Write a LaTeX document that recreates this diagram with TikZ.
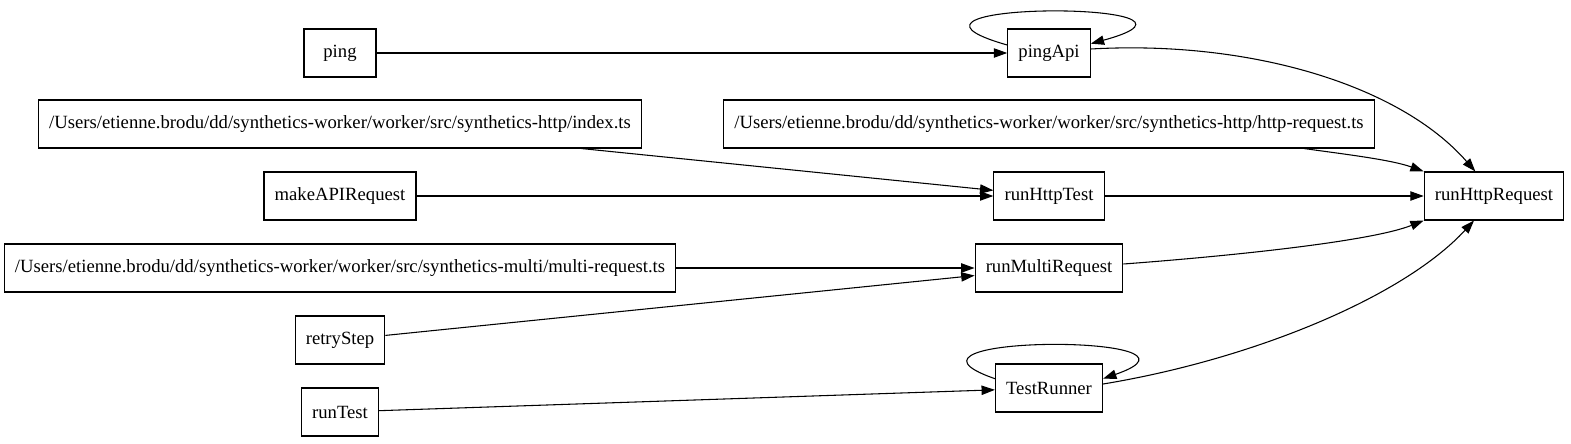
\documentclass[tikz,border=0pt]{standalone}
\usepackage{fontspec}
\setmainfont{Liberation Serif}
\usepackage{tikz}
\usetikzlibrary{arrows.meta}

\begin{document}
\begin{tikzpicture}
    [x=0.75pt,y=-0.75pt,
    font=\fontsize{14pt}{16pt}\selectfont,
    box/.style={shape=rectangle,draw=black,line width=0.8pt,minimum width=54pt,minimum height=36pt,inner xsep=8pt},
    arc/.style={-{Triangle[length=10pt,width=7pt]},line width=0.8pt}]

    \useasboundingbox (0,0) rectangle (1571,443);

    \node (ping) [box] at (340,53) {ping};
    \node (indexTs) [box] at (340,124) {/Users/etienne.brodu/dd/synthetics-worker/worker/src/synthetics-http/index.ts};
    \node (makeAPIRequest) [box] at (340,196) {makeAPIRequest};
    \node (multiRequestTs) [box] at (340,268) {/Users/etienne.brodu/dd/synthetics-worker/worker/src/synthetics-multi/multi-request.ts};
    \node (retryStep) [box] at (340,340) {retryStep};
    \node (runTest) [box] at (340,412) {runTest};

    \node (pingApi) [box] at (1049,53) {pingApi};
    \node (httpRequestTs) [box] at (1049,124) {/Users/etienne.brodu/dd/synthetics-worker/worker/src/synthetics-http/http-request.ts};
    \node (runHttpTest) [box] at (1049,196) {runHttpTest};
    \node (runMultiRequest) [box] at (1049,268) {runMultiRequest};
    \node (TestRunner) [box] at (1049,388) {TestRunner};

    \node (runHttpRequest) [box] at (1494,196) {runHttpRequest};

    \draw [arc] (ping) -- (pingApi);
    \draw [arc] ([yshift=6pt]pingApi.west) .. controls +(-158,-45) and +(158,-43) .. ([yshift=7pt]pingApi.east);
    \draw [arc] ([yshift=3pt]pingApi.east) .. controls +(158,-9) and +(-76,-87) .. ([xshift=-14pt]runHttpRequest.north);
    \draw [arc] (indexTs) -- (runHttpTest);
    \draw [arc] ([xshift=-53pt]httpRequestTs.south east) .. controls +(35,5) and +(-33,-12) .. (runHttpRequest.north west);
    \draw [arc] (makeAPIRequest) -- (runHttpTest);
    \draw [arc] (runHttpTest) -- (runHttpRequest);
    \draw [arc] (multiRequestTs) -- (runMultiRequest);
    \draw [arc] ([yshift=3pt]runMultiRequest.east) .. controls +(107,-8) and +(-53,21) .. (runHttpRequest.south west);
    \draw [arc] (retryStep) -- (runMultiRequest);
    \draw [arc] (runTest) -- (TestRunner);
    \draw [arc] ([yshift=7pt]TestRunner.west) .. controls +(-130,-45) and +(130,-45) .. ([yshift=7pt]TestRunner.east);
    \draw [arc] ([yshift=3pt]TestRunner.east) .. controls +(146,-24) and +(-72,78) .. ([xshift=-15pt]runHttpRequest.south);
\end{tikzpicture}
\end{document}
